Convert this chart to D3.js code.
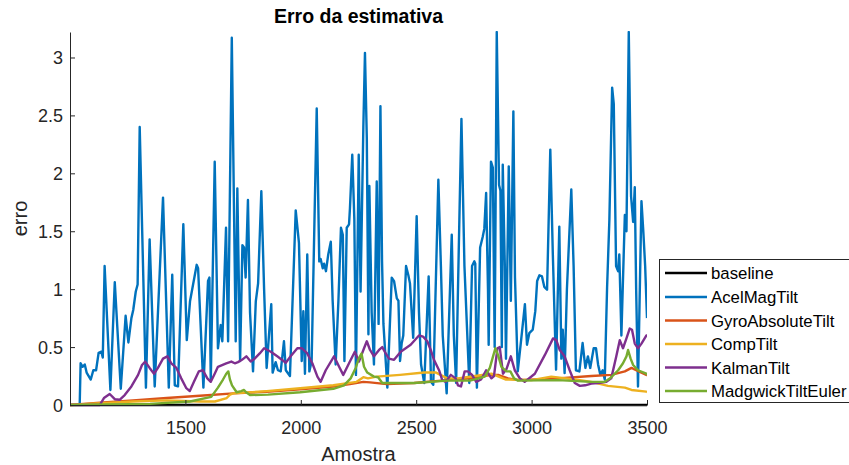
<!DOCTYPE html>
<html>
<head>
<meta charset="utf-8">
<script src="https://cdn.jsdelivr.net/npm/d3@7"></script>
<style>
  html, body { margin: 0; padding: 0; background: #fff; }
  svg { display: block; font-family: "Liberation Sans", Arial, sans-serif; }
</style>
</head>
<body>
<svg id="chart" width="849" height="465"></svg>
<script>
// Sample positions and error values for each estimator
const xTicks = [1500, 2000, 2500, 3000, 3500];
const yTicks = [0, 0.5, 1, 1.5, 2, 2.5, 3];

const baselineSample = [1000, 3500];
const baselineErr = [0, 0];

const acelSample = [1042,1046,1055,1064,1072,1081,1090,1101,1113,1124,1136,1142,1150,1175,1194,1220,1241,1253,1266,1274,1285,1293,1302,1329,1345,1367,1403,1428,1443,1454,1468,1491,1506,1520,1549,1555,1578,1598,1604,1610,1627,1641,1653,1660,1676,1685,1701,1718,1725,1737,1747,1754,1761,1771,1780,1793,1805,1815,1829,1841,1852,1862,1872,1878,1891,1901,1913,1927,1935,1953,1978,1992,2004,2011,2018,2028,2037,2047,2069,2080,2086,2095,2101,2109,2119,2130,2138,2151,2163,2174,2182,2189,2199,2209,2213,2223,2232,2239,2251,2259,2271,2278,2286,2293,2297,2307,2317,2329,2337,2345,2352,2358,2375,2394,2404,2416,2423,2430,2437,2444,2456,2466,2473,2487,2502,2512,2521,2535,2554,2564,2574,2596,2607,2615,2632,2654,2663,2673,2687,2696,2709,2730,2742,2752,2756,2763,2777,2788,2795,2803,2811,2814,2824,2832,2840,2849,2859,2865,2871,2875,2884,2889,2901,2910,2921,2928,2940,2954,2971,2980,2990,3005,3016,3024,3034,3045,3055,3067,3081,3092,3106,3120,3129,3135,3143,3153,3172,3182,3192,3207,3221,3233,3244,3254,3269,3279,3288,3298,3308,3317,3327,3337,3349,3356,3366,3375,3380,3389,3404,3411,3421,3431,3440,3447,3453,3461,3476,3484,3492,3500];
const acelErr = [0.00,0.36,0.33,0.35,0.28,0.25,0.22,0.30,0.30,0.45,0.46,0.41,1.20,0.13,1.06,0.14,0.77,0.54,0.75,0.82,0.98,1.04,2.40,0.15,1.43,0.16,1.79,0.15,1.125,0.17,0.16,1.56,0.56,0.895,1.21,1.18,0.15,1.07,1.10,0.21,2.10,0.49,0.69,0.55,1.53,0.55,3.17,0.55,1.87,0.38,1.38,1.36,1.10,1.77,0.80,0.29,0.895,1.05,1.845,1.00,0.32,0.60,0.87,0.28,0.37,0.30,0.29,0.55,0.30,0.25,1.68,1.40,0.38,0.81,0.27,1.30,0.29,0.38,2.56,1.24,1.26,1.18,1.22,1.155,1.30,1.41,0.90,0.35,0.90,1.53,1.47,0.38,1.53,1.56,1.70,2.16,1.60,0.26,2.16,0.98,2.40,3.04,2.30,0.61,1.89,0.80,0.35,1.93,0.70,2.58,1.24,0.70,0.15,1.10,1.07,0.92,0.90,0.38,0.53,0.60,1.20,1.12,1.05,0.58,1.63,0.80,0.35,0.19,1.11,0.20,0.175,1.945,1.20,0.60,0.10,1.47,0.60,0.19,1.60,2.47,1.20,0.19,1.20,1.24,1.22,0.15,1.36,1.45,1.52,1.83,1.00,0.52,2.10,2.05,0.50,3.22,1.90,1.85,0.50,2.075,1.20,0.40,2.06,0.90,2.535,1.10,0.29,0.55,0.87,0.52,0.62,0.65,0.81,1.07,1.12,1.11,1.02,0.995,2.205,1.30,0.305,1.54,0.40,0.65,0.275,1.00,1.86,1.20,0.30,0.29,0.535,0.32,0.42,0.32,0.49,0.49,0.35,0.26,0.30,0.22,1.01,1.60,2.74,2.60,1.20,1.155,1.30,0.60,1.64,1.50,3.22,1.80,1.58,1.88,1.00,0.16,1.76,1.50,1.20,0.75];

const gyroSample = [1000,1130,1273,1419,1563,1708,1852,1997,2141,2213,2271,2300,2372,2491,2635,2733,2826,2855,2898,2941,3115,3259,3345,3404,3433,3453,3497,3500];
const gyroErr = [0,0.02,0.04,0.06,0.08,0.10,0.115,0.135,0.16,0.18,0.20,0.195,0.18,0.19,0.215,0.23,0.26,0.26,0.23,0.215,0.23,0.25,0.26,0.29,0.32,0.30,0.26,0.255];

const compSample = [1000,1273,1419,1563,1628,1679,1693,1708,1852,1997,2141,2242,2271,2291,2329,2430,2534,2586,2635,2681,2755,2826,2889,3000,3085,3187,3259,3331,3404,3433,3497,3500];
const compErr = [0,0.03,0.04,0.03,0.03,0.06,0.09,0.10,0.12,0.145,0.17,0.20,0.24,0.23,0.245,0.26,0.28,0.28,0.23,0.23,0.25,0.27,0.22,0.215,0.245,0.22,0.20,0.165,0.15,0.13,0.115,0.11];

const kalmanSample = [1000,1129,1147,1172,1194,1215,1237,1266,1295,1312,1326,1345,1364,1381,1403,1422,1439,1461,1482,1504,1519,1537,1558,1576,1595,1610,1627,1641,1659,1677,1699,1714,1728,1745,1764,1783,1800,1822,1841,1870,1898,1935,1956,1985,2005,2028,2050,2072,2086,2108,2144,2166,2184,2209,2234,2252,2274,2286,2300,2317,2339,2353,2368,2382,2404,2433,2476,2512,2530,2548,2563,2577,2599,2613,2628,2650,2671,2681,2694,2710,2724,2742,2760,2781,2803,2826,2837,2852,2862,2876,2891,2910,2927,2949,2970,3014,3057,3093,3107,3122,3143,3165,3187,3209,3232,3259,3288,3324,3345,3367,3382,3396,3411,3425,3435,3447,3461,3476,3497,3500];
const kalmanErr = [0,0,0.06,0.095,0.05,0.045,0.086,0.16,0.26,0.345,0.375,0.32,0.27,0.32,0.40,0.42,0.36,0.32,0.23,0.145,0.12,0.20,0.29,0.30,0.23,0.20,0.27,0.33,0.345,0.36,0.375,0.36,0.37,0.39,0.42,0.375,0.40,0.445,0.49,0.46,0.42,0.365,0.42,0.49,0.49,0.445,0.36,0.245,0.20,0.30,0.42,0.33,0.26,0.36,0.46,0.375,0.49,0.55,0.475,0.42,0.475,0.50,0.445,0.40,0.39,0.46,0.52,0.60,0.59,0.55,0.475,0.39,0.30,0.215,0.20,0.26,0.23,0.17,0.16,0.29,0.29,0.26,0.20,0.22,0.30,0.23,0.25,0.49,0.50,0.27,0.31,0.42,0.30,0.23,0.20,0.27,0.43,0.575,0.56,0.475,0.42,0.30,0.19,0.165,0.17,0.185,0.19,0.20,0.23,0.42,0.56,0.49,0.575,0.66,0.65,0.53,0.49,0.53,0.60,0.60];

const madgwickSample = [1000,1347,1520,1612,1641,1663,1677,1686,1693,1702,1722,1742,1754,1763,1780,1858,1997,2141,2187,2216,2238,2251,2263,2274,2288,2317,2335,2353,2387,2491,2635,2733,2797,2819,2833,2843,2855,2869,2891,2908,2924,2941,3115,3259,3317,3340,3375,3396,3411,3418,3429,3440,3461,3497,3500];
const madgwickErr = [0,0.01,0.03,0.07,0.15,0.22,0.27,0.29,0.22,0.17,0.11,0.12,0.13,0.11,0.086,0.09,0.11,0.14,0.17,0.23,0.32,0.40,0.445,0.33,0.28,0.245,0.24,0.19,0.19,0.19,0.21,0.21,0.245,0.32,0.42,0.49,0.43,0.33,0.29,0.29,0.23,0.21,0.215,0.20,0.20,0.23,0.30,0.36,0.42,0.475,0.40,0.345,0.30,0.27,0.26];

const seriesNames = ["baseline", "AcelMagTilt", "GyroAbsoluteTilt", "CompTilt", "KalmanTilt", "MadgwickTiltEuler"];
const seriesColors = ["#000000", "#0072BD", "#D95319", "#EDB120", "#7E2F8E", "#77AC30"];

const series = [
  [baselineSample, baselineErr],
  [acelSample, acelErr],
  [gyroSample, gyroErr],
  [compSample, compErr],
  [kalmanSample, kalmanErr],
  [madgwickSample, madgwickErr]
].map(([xs, ys], i) => ({
  name: seriesNames[i],
  color: seriesColors[i],
  points: xs.map((x, j) => [x, ys[j]])
}));

const svg = d3.select("#chart");
const plotLeft = 70, plotRight = 647, plotTop = 32, plotBottom = 405;
const axisColor = "#262626";
const lineWidth = 2.4;

const x = d3.scaleLinear().domain([1000, 3500]).range([plotLeft, plotRight]);
const y = d3.scaleLinear().domain([0, 3.22]).range([plotBottom, plotTop]);

svg.append("defs").append("clipPath").attr("id", "plotClip")
  .append("rect").attr("x", plotLeft).attr("y", plotTop - 1)
  .attr("width", plotRight - plotLeft).attr("height", plotBottom - plotTop + 3);

// Lines
const line = d3.line().x(d => x(d[0])).y(d => y(d[1]));
const plot = svg.append("g").attr("clip-path", "url(#plotClip)");
series.forEach(s => {
  plot.append("path")
    .datum(s.points)
    .attr("d", line)
    .attr("fill", "none")
    .attr("stroke", s.color)
    .attr("stroke-width", lineWidth)
    .attr("stroke-linejoin", "round");
});

// Axes (ticks pointing inward)
const xAxis = svg.append("g")
  .attr("transform", `translate(0,${plotBottom})`)
  .call(d3.axisBottom(x).tickValues(xTicks).tickSizeInner(-5).tickSizeOuter(0).tickFormat(d3.format("d")));
xAxis.select(".domain").attr("stroke", axisColor);
xAxis.selectAll(".tick line").attr("stroke", axisColor);
xAxis.selectAll("text")
  .attr("y", 29).attr("dy", 0)
  .attr("fill", axisColor)
  .style("font-size", "18px")
  .style("font-family", "Liberation Sans, Arial, sans-serif");

const yAxis = svg.append("g")
  .attr("transform", `translate(${plotLeft},0)`)
  .call(d3.axisLeft(y).tickValues(yTicks).tickSizeInner(-5).tickSizeOuter(0).tickFormat(d => String(d)));
yAxis.select(".domain").attr("stroke", axisColor);
yAxis.selectAll(".tick line").attr("stroke", axisColor);
yAxis.selectAll("text")
  .attr("x", -7).attr("dy", "0.36em")
  .attr("fill", axisColor)
  .style("font-size", "18px")
  .style("font-family", "Liberation Sans, Arial, sans-serif");

// Title and axis labels
svg.append("text")
  .attr("x", (plotLeft + plotRight) / 2).attr("y", 23)
  .attr("text-anchor", "middle")
  .attr("font-weight", "bold")
  .attr("font-size", 19.5)
  .attr("fill", "#000")
  .text("Erro da estimativa");

svg.append("text")
  .attr("x", (plotLeft + plotRight) / 2).attr("y", 461)
  .attr("text-anchor", "middle")
  .attr("font-size", 20)
  .attr("fill", axisColor)
  .text("Amostra");

svg.append("text")
  .attr("transform", `translate(27,${(plotTop + plotBottom) / 2}) rotate(-90)`)
  .attr("text-anchor", "middle")
  .attr("font-size", 20)
  .attr("fill", axisColor)
  .text("erro");

// Legend
const legend = svg.append("g");
legend.append("rect")
  .attr("x", 659.5).attr("y", 259.5)
  .attr("width", 220).attr("height", 143)
  .attr("fill", "#fff")
  .attr("stroke", axisColor)
  .attr("stroke-width", 1);
const rowY = [273, 297, 320.5, 344, 367.5, 391];
series.forEach((s, i) => {
  legend.append("line")
    .attr("x1", 665).attr("x2", 707)
    .attr("y1", rowY[i]).attr("y2", rowY[i])
    .attr("stroke", s.color).attr("stroke-width", lineWidth);
  legend.append("text")
    .attr("x", 711).attr("y", rowY[i] + 6)
    .attr("font-size", 16.8)
    .attr("fill", "#000")
    .text(s.name);
});
</script>
</body>
</html>
